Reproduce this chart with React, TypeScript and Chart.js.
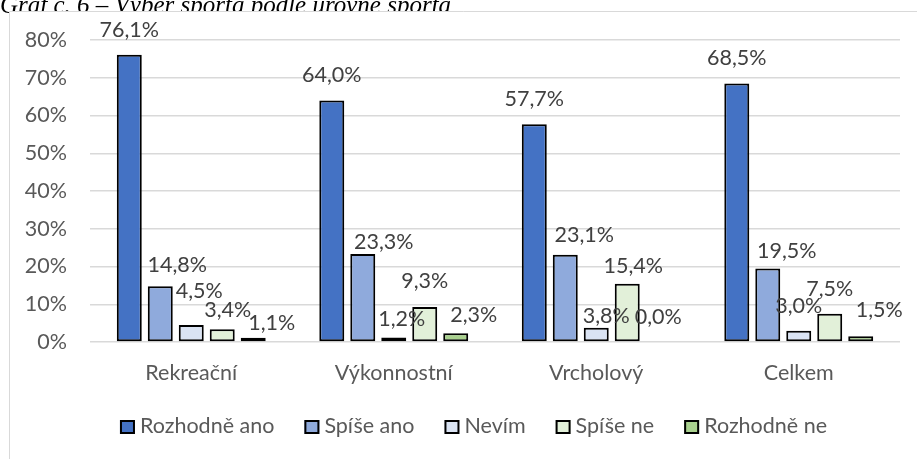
import React, { useEffect, useRef } from "react";
import { Chart, registerables } from "chart.js";

Chart.register(...registerables);

const W = 917;
const H = 459;

const TITLE = "Graf č. 6 – Výběr sporta podle úrovně sporta";
const categories = ["Rekreační", "Výkonnostní", "Vrcholový", "Celkem"];
const seriesNames = ["Rozhodně ano", "Spíše ano", "Nevím", "Spíše ne", "Rozhodně ne"];
const rozhodneAno = [76.1, 64.0, 57.7, 68.5];
const spiseAno = [14.8, 23.3, 23.1, 19.5];
const nevim = [4.5, 1.2, 3.8, 3.0];
const spiseNe = [3.4, 9.3, 15.4, 7.5];
const rozhodneNe = [1.1, 2.3, 0.0, 1.5];
const yTickValues = [0, 10, 20, 30, 40, 50, 60, 70, 80];

const seriesValues = [rozhodneAno, spiseAno, nevim, spiseNe, rozhodneNe];
const seriesColors = ["#4472C4", "#8FAADC", "#DAE3F3", "#E2F0D9", "#A9D18E"];

// label nudges (style, px) per series per category
const labelDx = [
  [0, 0, 0, 0],
  [17, 21, 19, 19],
  [8, 8, 10, 0],
  [5.5, 0, 6, 0],
  [18.5, 18, 0, 18.5],
];
const labelDy = [
  [0, 0, 0, 0],
  [4, 13, 5, 8],
  [-9, 7, 13, 0],
  [6, -1, 7, 0],
  [10, 7, 0, -1],
];

const FONT = "Lato";
const FONT_SIZE = 21.5;
const TEXT_COLOR = "#595959";
const LABEL_COLOR = "#404040";

const fmt = (v: number) => v.toFixed(1).replace(".", ",") + "%";

const framePlugin = {
  id: "frame",
  beforeDraw(chart: any) {
    const ctx = chart.ctx;
    ctx.save();
    ctx.fillStyle = "#fff";
    ctx.fillRect(0, 0, W, H);
    ctx.font = 'italic 25px "Liberation Serif"';
    ctx.fillStyle = "#000";
    ctx.textBaseline = "alphabetic";
    ctx.textAlign = "left";
    ctx.fillText(TITLE, 0, 13);
    ctx.fillStyle = "#fff";
    ctx.fillRect(9, 11, W, H);
    ctx.strokeStyle = "#d9d9d9";
    ctx.lineWidth = 1;
    ctx.beginPath();
    ctx.moveTo(9.5, H);
    ctx.lineTo(9.5, 11.5);
    ctx.lineTo(W, 11.5);
    ctx.stroke();
    ctx.restore();
  },
};

const labelsPlugin = {
  id: "barLabels",
  afterDatasetsDraw(chart: any) {
    const ctx = chart.ctx;
    ctx.save();
    ctx.font = `${FONT_SIZE}px ${FONT}`;
    ctx.fillStyle = LABEL_COLOR;
    ctx.textAlign = "center";
    ctx.textBaseline = "alphabetic";
    chart.data.datasets.forEach((ds: any, si: number) => {
      const meta = chart.getDatasetMeta(si);
      meta.data.forEach((bar: any, ci: number) => {
        const v = ds.data[ci];
        ctx.fillText(fmt(v), bar.x + labelDx[si][ci], bar.y - 18 + labelDy[si][ci]);
      });
    });
    ctx.restore();
  },
};

const legendPlugin = {
  id: "customLegend",
  afterDraw(chart: any) {
    const ctx = chart.ctx;
    ctx.save();
    ctx.font = `${FONT_SIZE}px ${FONT}`;
    const box = 15;
    const gapText = 5;
    const gapItem = 30;
    const widths = seriesNames.map((n) => ctx.measureText(n).width);
    const total =
      widths.reduce((a, w) => a + box + gapText + w, 0) + gapItem * (seriesNames.length - 1);
    const center = 473.5;
    let x = center - total / 2;
    const boxTop = 420;
    const baseline = 433;
    seriesNames.forEach((n, i) => {
      ctx.fillStyle = seriesColors[i];
      ctx.fillRect(x, boxTop, box, box - 1);
      ctx.strokeStyle = "#000";
      ctx.lineWidth = 2;
      ctx.strokeRect(x + 1, boxTop + 1, box - 2, box - 3);
      ctx.fillStyle = TEXT_COLOR;
      ctx.textAlign = "left";
      ctx.textBaseline = "alphabetic";
      ctx.fillText(n, x + box + gapText, baseline);
      x += box + gapText + widths[i] + gapItem;
    });
    ctx.restore();
  },
};

export default function App() {
  const ref = useRef<HTMLCanvasElement | null>(null);

  useEffect(() => {
    if (!ref.current) return;
    const chart = new Chart(ref.current, {
      type: "bar",
      data: {
        labels: categories,
        datasets: seriesNames.map((name, i) => ({
          label: name,
          data: seriesValues[i],
          backgroundColor: seriesColors[i],
          borderColor: "#000",
          borderWidth: 2,
          borderSkipped: false,
          categoryPercentage: 0.765,
          barPercentage: 0.806,
        })),
      },
      options: {
        animation: false,
        responsive: false,
        devicePixelRatio: 1,
        layout: { padding: { top: 40, right: 17, left: 0, bottom: 0 } },
        plugins: {
          legend: { display: false },
          tooltip: { enabled: false },
          title: { display: false },
        },
        scales: {
          x: {
            grid: { display: false, drawTicks: false },
            border: { display: false },
            ticks: {
              color: TEXT_COLOR,
              font: { family: FONT, size: FONT_SIZE },
              padding: 18,
              maxRotation: 0,
              autoSkip: false,
            },
            afterFit: (s: any) => {
              s.height = 117;
            },
          },
          y: {
            min: 0,
            max: 80,
            afterBuildTicks: (s: any) => {
              s.ticks = yTickValues.map((v) => ({ value: v }));
            },
            grid: { color: "#d9d9d9", lineWidth: 1.5, drawTicks: false },
            border: { display: false },
            ticks: {
              color: TEXT_COLOR,
              font: { family: FONT, size: FONT_SIZE },
              padding: 23,
              callback: (v: any) => v + "%",
            },
            afterFit: (s: any) => {
              s.width = 90;
            },
          },
        },
      },
      plugins: [framePlugin, labelsPlugin, legendPlugin],
    });
    return () => chart.destroy();
  }, []);

  return (
    <div style={{ position: "fixed", left: 0, top: 0, width: W, height: H, background: "#fff" }}>
      <canvas ref={ref} width={W} height={H} style={{ width: W, height: H, display: "block" }} />
    </div>
  );
}
